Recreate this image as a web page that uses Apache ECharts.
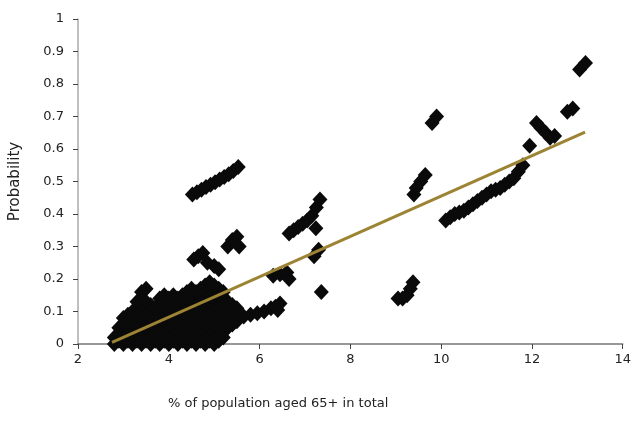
<!DOCTYPE html>
<html>
<head>
<meta charset="utf-8">
<script src="https://cdn.jsdelivr.net/npm/echarts@6/dist/echarts.min.js"></script>
<style>html,body{margin:0;padding:0;background:#fff;}#c{width:634px;height:425px;}</style>
</head>
<body>
<div id="c"></div>
<script>
// Axis ticks
var xTicks = [2, 4, 6, 8, 10, 12, 14];
var yTicks = [0, 0.1, 0.2, 0.3, 0.4, 0.5, 0.6, 0.7, 0.8, 0.9, 1];

// Dense cluster (x 2.8 - 5.5): column x values and the y values in each column
var denseColX = [2.8, 2.9, 3.0, 3.1, 3.2, 3.3, 3.4, 3.5, 3.6, 3.7, 3.8, 3.9, 4.0, 4.1, 4.2, 4.3,
                 4.4, 4.5, 4.6, 4.7, 4.8, 4.9, 5.0, 5.1, 5.2, 5.3, 5.4, 5.5];
var denseColY = [
  [0, 0.02],
  [0.01, 0.03, 0.05],
  [0, 0.02, 0.04, 0.06, 0.08],
  [0.01, 0.03, 0.05, 0.07, 0.09],
  [0, 0.02, 0.04, 0.06, 0.08, 0.10],
  [0.01, 0.03, 0.05, 0.07, 0.09, 0.11, 0.13],
  [0, 0.02, 0.04, 0.06, 0.08, 0.10, 0.12, 0.14, 0.16],
  [0.01, 0.03, 0.05, 0.07, 0.09, 0.11, 0.13, 0.17],
  [0, 0.02, 0.04, 0.06, 0.08, 0.10, 0.12],
  [0.01, 0.03, 0.05, 0.07, 0.09, 0.11],
  [0, 0.02, 0.04, 0.06, 0.08, 0.10, 0.12, 0.14],
  [0.01, 0.03, 0.05, 0.07, 0.09, 0.11, 0.13, 0.15],
  [0, 0.02, 0.04, 0.06, 0.08, 0.10, 0.12, 0.14],
  [0.01, 0.03, 0.05, 0.07, 0.09, 0.11, 0.13, 0.15],
  [0, 0.02, 0.04, 0.06, 0.08, 0.10, 0.12, 0.14],
  [0.01, 0.03, 0.05, 0.07, 0.09, 0.11, 0.13, 0.15],
  [0, 0.02, 0.04, 0.06, 0.08, 0.10, 0.12, 0.14, 0.16],
  [0.01, 0.03, 0.05, 0.07, 0.09, 0.11, 0.13, 0.15, 0.17],
  [0, 0.02, 0.04, 0.06, 0.08, 0.10, 0.12, 0.14, 0.16],
  [0.01, 0.03, 0.05, 0.07, 0.09, 0.11, 0.13, 0.15, 0.17],
  [0, 0.02, 0.04, 0.06, 0.08, 0.10, 0.12, 0.14, 0.16, 0.18],
  [0.01, 0.03, 0.05, 0.07, 0.09, 0.11, 0.13, 0.15, 0.17, 0.19],
  [0, 0.02, 0.04, 0.06, 0.08, 0.10, 0.12, 0.14, 0.16, 0.18],
  [0.01, 0.03, 0.05, 0.07, 0.09, 0.11, 0.13, 0.15, 0.17],
  [0.02, 0.04, 0.06, 0.08, 0.10, 0.12, 0.14, 0.16],
  [0.05, 0.07, 0.09, 0.11, 0.13],
  [0.06, 0.08, 0.10, 0.12],
  [0.07, 0.09, 0.11]
];

// Other groups
var otherX = [
  // lower arm 5.6-6.45
  5.65, 5.8, 5.95, 6.1, 6.25, 6.35, 6.45, 6.4,
  // on-line group ~6.5
  6.3, 6.45, 6.6, 6.65,
  // blobs ~0.25-0.33
  4.55, 4.65, 4.75, 4.85, 5.0, 5.1,
  5.3, 5.4, 5.5, 5.55,
  // streak 0.46-0.55
  4.52, 4.62, 4.72, 4.82, 4.92, 5.02, 5.12, 5.22, 5.32, 5.42, 5.53,
  // group 6.6-7.35
  6.65, 6.75, 6.85, 6.95, 7.05, 7.15, 7.25, 7.33, 7.24,
  // points near 7.3
  7.2, 7.3, 7.36,
  // J shape ~9.2
  9.05, 9.15, 9.25, 9.32, 9.38,
  // 9.4-9.7
  9.4, 9.45, 9.55, 9.65,
  // 9.85
  9.8, 9.9,
  // long streak 10.1-11.9
  10.1, 10.2, 10.3, 10.4, 10.5, 10.6, 10.7, 10.8, 10.9, 11.0,
  11.1, 11.2, 11.3, 11.4, 11.5, 11.6, 11.7, 11.8, 11.95,
  // 12.1-12.5
  12.1, 12.2, 12.3, 12.4, 12.5,
  // top right
  12.78, 12.9, 13.05, 13.18
];
var otherY = [
  0.085, 0.09, 0.095, 0.10, 0.11, 0.115, 0.125, 0.105,
  0.21, 0.215, 0.22, 0.20,
  0.26, 0.27, 0.28, 0.25, 0.24, 0.23,
  0.30, 0.32, 0.33, 0.30,
  0.46, 0.467, 0.475, 0.483, 0.49, 0.498, 0.506, 0.514, 0.522, 0.532, 0.545,
  0.34, 0.35, 0.36, 0.37, 0.38, 0.395, 0.42, 0.445, 0.356,
  0.27, 0.29, 0.16,
  0.14, 0.14, 0.15, 0.17, 0.19,
  0.46, 0.48, 0.50, 0.52,
  0.68, 0.70,
  0.38, 0.39, 0.40, 0.405, 0.41, 0.42, 0.43, 0.44, 0.45, 0.46,
  0.47, 0.475, 0.48, 0.49, 0.50, 0.51, 0.53, 0.55, 0.61,
  0.68, 0.665, 0.65, 0.635, 0.64,
  0.715, 0.725, 0.845, 0.865
];

// Trend line endpoints
var trendX = [2.75, 13.17];
var trendY = [0.005, 0.652];

function zip(a, b) { var r = []; for (var i = 0; i < a.length; i++) r.push([a[i], b[i]]); return r; }
var densePts = [];
for (var c = 0; c < denseColX.length; c++) {
  for (var k = 0; k < denseColY[c].length; k++) densePts.push([denseColX[c], denseColY[c][k]]);
}

var chart = echarts.init(document.getElementById('c'), null, { renderer: 'canvas' });
var axisFont = { fontFamily: 'DejaVu Sans', fontSize: 13, color: '#222' };
var sym = [15, 16];
var mark = { color: '#0a0a0a', opacity: 1 };
chart.setOption({
  animation: false,
  backgroundColor: '#fff',
  grid: { left: 77, right: 9, top: 19, bottom: 81, containLabel: false },
  xAxis: {
    type: 'value', min: xTicks[0], max: xTicks[xTicks.length - 1], interval: 2,
    axisLine: { show: true, onZero: false, lineStyle: { color: '#777', width: 1.5 } },
    axisTick: { show: true, inside: false, length: 5, lineStyle: { color: '#444' } },
    axisLabel: Object.assign({ margin: 9 }, axisFont),
    splitLine: { show: false }
  },
  yAxis: {
    type: 'value', min: yTicks[0], max: yTicks[yTicks.length - 1], interval: 0.1,
    axisLine: { show: true, onZero: false, lineStyle: { color: '#aaa', width: 1.5 } },
    axisTick: { show: true, inside: false, length: 5, lineStyle: { color: '#444' } },
    axisLabel: Object.assign({ margin: 14, formatter: function (v) { return String(Math.round(v * 10) / 10); } }, axisFont),
    splitLine: { show: false },
    name: 'Probability', nameLocation: 'middle', nameGap: 55, nameRotate: 90,
    nameTextStyle: { fontFamily: 'DejaVu Sans', fontSize: 15, color: '#222' }
  },
  graphic: [{
    type: 'text', left: 168, top: 397,
    style: { text: '% of population aged 65+ in total', font: '13px "DejaVu Sans"', fill: '#222' }
  }],
  series: [
    {
      type: 'scatter', data: densePts, symbol: 'diamond', symbolSize: sym,
      itemStyle: mark, z: 2
    },
    {
      type: 'scatter', data: zip(otherX, otherY), symbol: 'diamond', symbolSize: sym,
      itemStyle: mark, z: 2
    },
    {
      type: 'line', data: zip(trendX, trendY), symbol: 'none',
      lineStyle: { color: '#9c8434', width: 3 }, z: 5
    }
  ]
});
</script>
</body>
</html>
